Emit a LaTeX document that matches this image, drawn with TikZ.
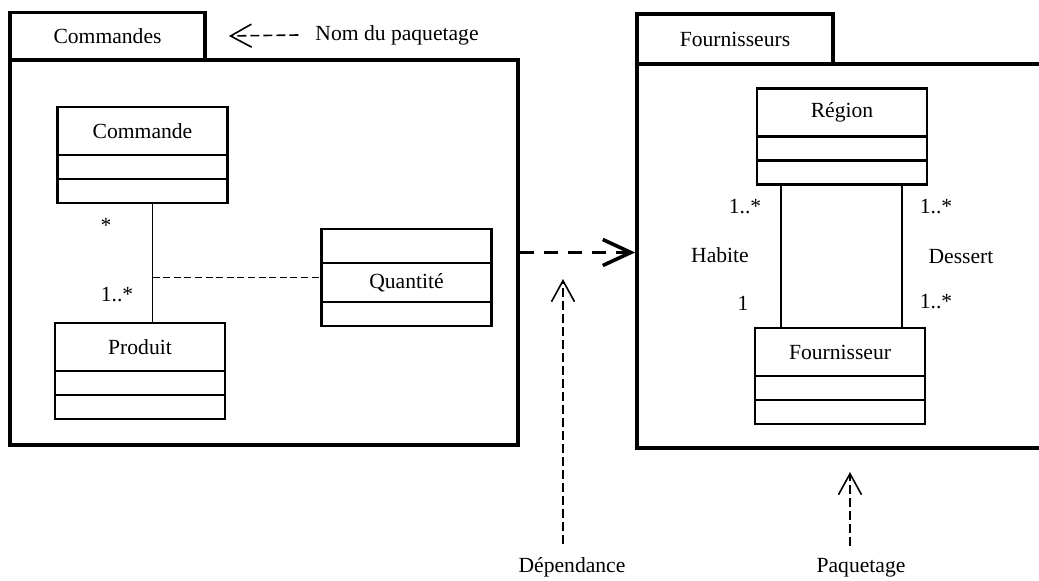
\documentclass[tikz,border=0pt]{standalone}
\usepackage{fontspec}
\setmainfont{Liberation Serif}
\usetikzlibrary{positioning,arrows.meta}
\tikzset{
  pkgtab/.style={draw, line width=1.9pt, minimum width=97.5pt, minimum height=23.5pt, inner sep=0pt},
  pkgbody/.style={draw, line width=1.9pt, inner sep=0pt},
  classname/.style={draw, line width=1.1pt, outer sep=0pt, minimum width=85pt, minimum height=24pt, inner sep=0pt},
  classpart/.style={draw, line width=1.1pt, outer sep=0pt, minimum width=85pt, minimum height=12pt, inner sep=0pt},
  assoc/.style={line width=0.9pt},
  assocdash/.style={line width=0.8pt, dash pattern=on 3.5pt off 1.8pt},
  deparrow/.style={-{Straight Barb[length=14pt, width=13pt]}, line width=1.8pt, dash pattern=on 7pt off 5pt},
  notearrow/.style={-{Straight Barb[length=10.5pt, width=11.5pt]}, line width=0.8pt, dash pattern=on 4.5pt off 2pt}
}

\begin{document}
\begin{tikzpicture}[x=0.5pt, y=-0.5pt, every node/.style={font=\fontsize{10.8}{12.8}\selectfont}]
  \useasboundingbox (0,0) rectangle (1039,580);
  \clip (0,0) rectangle (1039,580);

  % paquetages
  \node[pkgtab] (tabcmd) at (107.5,36) {Commandes};
  \node[pkgbody, minimum width=254pt, minimum height=192.5pt] (pkgcmd) at (264,252.5) {};
  \node[pkgtab, minimum width=98pt, minimum height=25pt] (tabfour) at (735,39) {Fournisseurs};
  \node[pkgbody, minimum width=216.5pt, minimum height=192pt] (pkgfour) at (853.5,256) {};

  \draw[deparrow] (pkgcmd.east) -- (pkgcmd.east -| pkgfour.west);

  % classes du paquetage Commandes
  \node[classname] (commande) at (142.5,131) {Commande};
  \node[classpart, below=0pt of commande] (commande-att) {};
  \node[classpart, below=0pt of commande-att] (commande-op) {};

  \node[classname] (produit) at (140,347) {Produit};
  \node[classpart, below=0pt of produit] (produit-att) {};
  \node[classpart, below=0pt of produit-att] (produit-op) {};

  \node[classpart, minimum height=17pt] (quantite-top) at (406.5,246) {};
  \node[classname, minimum height=19.5pt, below=0pt of quantite-top] (quantite) {Quantité};
  \node[classpart, below=0pt of quantite] (quantite-op) {};

  \draw[assoc] ([xshift=5pt]commande-op.south) -- coordinate[pos=0.62] (lien)
    ([xshift=5pt]commande-op.south |- produit.north);
  \draw[assocdash] (lien) -- (lien -| quantite.west);
  \node (mcmd) at (106,225) {*};
  \node (mprod) at (117,295) {1..*};

  % classes du paquetage Fournisseurs
  \node[classname] (region) at (842,112.5) {Région};
  \node[classpart, below=0pt of region] (region-att) {};
  \node[classpart, below=0pt of region-att] (region-op) {};

  \node[classname] (fournisseur) at (840,352) {Fournisseur};
  \node[classpart, below=0pt of fournisseur] (fournisseur-att) {};
  \node[classpart, below=0pt of fournisseur-att] (fournisseur-op) {};

  \draw[assoc] ([xshift=-30.5pt]region-op.south) -- ([xshift=-30.5pt]region-op.south |- fournisseur.north);
  \draw[assoc] ([xshift=30pt]region-op.south) -- ([xshift=30pt]region-op.south |- fournisseur.north);
  \node (mhreg) at (745,207) {1..*};
  \node (mdreg) at (936,207) {1..*};
  \node (habite) at (720,255) {Habite};
  \node (dessert) at (961,257) {Dessert};
  \node (mhfou) at (743,303) {1};
  \node (mdfou) at (936,302) {1..*};

  % annotations
  \node (nompkg) at (397,35) {Nom du paquetage};
  \draw[notearrow] ([xshift=-5pt]nompkg.west) -- ([xshift=11pt]tabcmd.east);

  \node (dep) at (572,567) {Dépendance};
  \coordinate (depcible) at (563,279);
  \draw[notearrow] ([yshift=3pt]dep.north -| depcible) -- (depcible);

  \node (paq) at (861,568) {Paquetage};
  \coordinate (paqcible) at (850,472);
  \draw[notearrow] ([yshift=3pt]paq.north -| paqcible) -- (paqcible);
\end{tikzpicture}
\end{document}
